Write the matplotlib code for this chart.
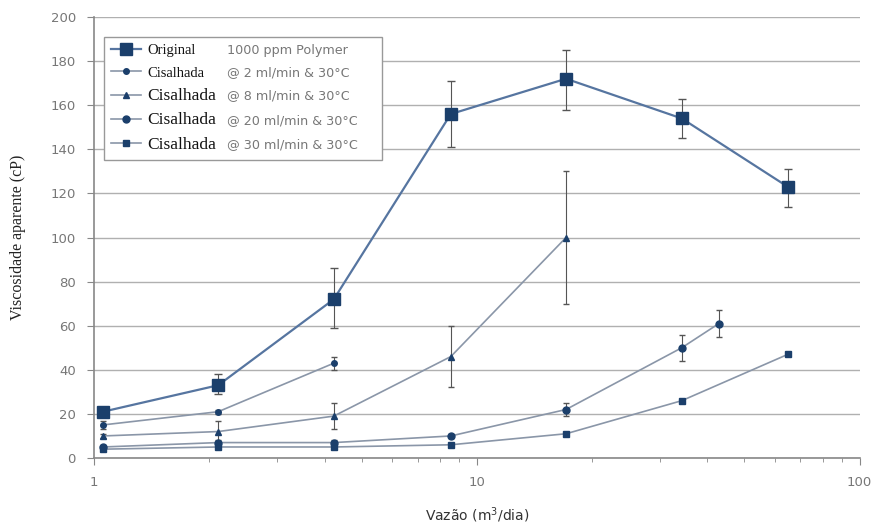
import numpy as np
import matplotlib.pyplot as plt
from matplotlib.patches import Rectangle

# Flow rates (m3/dia)
x_orig = [1.055, 2.11, 4.23, 8.55, 17.1, 34.3, 64.9]
y_orig = [21, 33, 72, 156, 172, 154, 123]
e_orig_lo = [1, 4, 13, 15, 14, 9, 9]
e_orig_hi = [1, 5, 14, 15, 13, 9, 8]

x_c2 = [1.055, 2.11, 4.23]
y_c2 = [15, 21, 43]
e_c2 = [2, 1, 3]

x_c8 = [1.055, 2.11, 4.23, 8.55, 17.1]
y_c8 = [10, 12, 19, 46, 100]
e_c8 = [1, 5, 6, 14, 30]

x_c20 = [1.055, 2.11, 4.23, 8.55, 17.1, 34.3, 42.9]
y_c20 = [5, 7, 7, 10, 22, 50, 61]
e_c20 = [1, 1, 1, 1, 3, 6, 6]

x_c30 = [1.055, 2.11, 4.23, 8.55, 17.1, 34.3, 64.9]
y_c30 = [4, 5, 5, 6, 11, 26, 47]

labels = ['Original', 'Cisalhada', 'Cisalhada', 'Cisalhada', 'Cisalhada']
notes = ['1000 ppm Polymer', '@ 2 ml/min & 30°C', '@ 8 ml/min & 30°C',
         '@ 20 ml/min & 30°C', '@ 30 ml/min & 30°C']

mk = '#1b3f6b'
ln = '#8a96a8'

fig = plt.figure(figsize=(8.79, 5.25), dpi=100)
ax = fig.add_axes([0.107, 0.1276, 0.871, 0.84])

h0 = ax.errorbar(x_orig, y_orig, yerr=[e_orig_lo, e_orig_hi], color='#5675a0', lw=1.6,
                 marker='s', ms=8, mfc=mk, mec=mk, ecolor='#555555', elinewidth=0.8, capsize=3)
h1 = ax.errorbar(x_c2, y_c2, yerr=e_c2, color=ln, lw=1.2, marker='o', ms=4,
                 mfc=mk, mec=mk, ecolor='#555555', elinewidth=0.8, capsize=2)
h2 = ax.errorbar(x_c8, y_c8, yerr=e_c8, color=ln, lw=1.2, marker='^', ms=5,
                 mfc=mk, mec=mk, ecolor='#555555', elinewidth=0.8, capsize=2)
h3 = ax.errorbar(x_c20, y_c20, yerr=e_c20, color=ln, lw=1.2, marker='o', ms=5,
                 mfc=mk, mec=mk, ecolor='#555555', elinewidth=0.8, capsize=2)
h4 = ax.plot(x_c30, y_c30, color=ln, lw=1.2, marker='s', ms=5, mfc=mk, mec=mk)[0]

ax.set_xscale('log')
ax.set_xlim(1, 100)
ax.set_ylim(0, 200)
ax.set_yticks(np.arange(0, 201, 20))
ax.set_xticks([1, 10, 100])
ax.set_xticklabels(['1', '10', '100'])
ax.grid(axis='y', color='#b0b0b0', lw=1)
ax.set_axisbelow(True)
for s in ['top', 'right']:
    ax.spines[s].set_visible(False)
for s in ['left', 'bottom']:
    ax.spines[s].set_color('#888888')
    ax.spines[s].set_linewidth(1.2)
ax.tick_params(axis='both', colors='#888888', labelcolor='#777777', labelsize=9.5,
               direction='out', length=5)
ax.tick_params(axis='x', which='minor', colors='#888888', length=3)
ax.tick_params(axis='y', pad=8)
ax.tick_params(axis='x', pad=8)

ax.set_xlabel('Vazão (m$^3$/dia)', fontsize=10, color='#333333', labelpad=12)
ax.set_ylabel('Viscosidade aparente (cP)', fontsize=11.5, family='Liberation Serif',
              color='#222222', labelpad=18)

handles = [h0[0], h1[0], h2[0], h3[0], h4]
leg = ax.legend(handles, labels, loc='upper left', frameon=False,
                bbox_to_anchor=(0.013, 0.955), prop={'family': 'Liberation Serif', 'size': 11},
                handlelength=2.0, labelspacing=0.55, borderpad=0.45, handletextpad=0.4,
                borderaxespad=0)
leg.set_zorder(6)
for i, t in enumerate(leg.get_texts()):
    t.set_fontsize(10.5 if i < 2 else 12.5)
    t.set_color('#111111')

# grey notes on the right of the legend labels, and a white box around everything
fig.canvas.draw()
bb = leg.get_window_extent()
inv = fig.transFigure.inverted()
for t, note in zip(leg.get_texts(), notes):
    tb = t.get_window_extent()
    yc = (tb.y0 + tb.y1) / 2
    xf, yf = inv.transform((bb.x0 + 123, yc))
    ax.text(xf, yf, note, transform=fig.transFigure, fontsize=9.2, color='#777777',
            va='center', ha='left', zorder=7)
(x0, y0), (x1, y1) = inv.transform([(bb.x0, bb.y0), (bb.x0 + 278, bb.y1)])
ax.add_patch(Rectangle((x0, y0), x1 - x0, y1 - y0, transform=fig.transFigure,
                       facecolor='white', edgecolor='#999999', lw=1.0, zorder=5,
                       clip_on=False))

fig.savefig('out.png', dpi=100)
